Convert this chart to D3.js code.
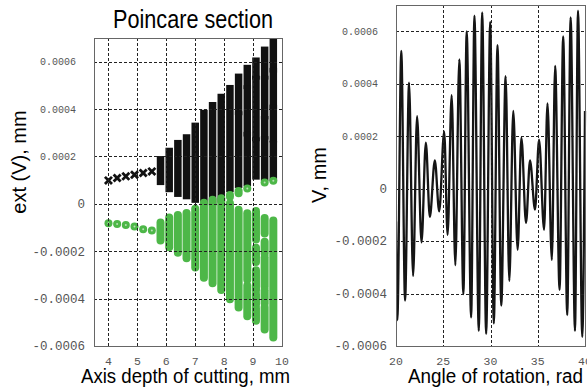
<!DOCTYPE html>
<html>
<head>
<meta charset="utf-8">
<script src="https://cdn.jsdelivr.net/npm/d3@7"></script>
<style>
  body { margin: 0; background: #fff; }
  svg { display: block; }
</style>
</head>
<body>
<svg id="chart" width="587" height="391"></svg>
<script>
// ---- data ----
// Poincare section: cutting depth (mm) and the ranges covered by the maxima / minima
const depths = [4.0, 4.3, 4.6, 4.9, 5.2, 5.5, 5.8, 6.1, 6.4, 6.7, 7.0, 7.3, 7.6, 7.9, 8.2, 8.5, 8.8, 9.1, 9.4, 9.7];

// each entry: list of [top, bottom] runs of black x-markers (maxima)
const maxRuns = [
  [[0.99e-4, 0.99e-4]],
  [[1.09e-4, 1.09e-4]],
  [[1.16e-4, 1.16e-4]],
  [[1.23e-4, 1.23e-4]],
  [[1.30e-4, 1.30e-4]],
  [[1.37e-4, 1.37e-4]],
  [[1.86e-4, 0.95e-4]],
  [[2.21e-4, 0.65e-4]],
  [[2.54e-4, 0.45e-4]],
  [[2.78e-4, 0.35e-4]],
  [[3.27e-4, 0.20e-4]],
  [[3.81e-4, 0.10e-4]],
  [[4.14e-4, 0.10e-4]],
  [[4.49e-4, 0.20e-4]],
  [[4.86e-4, 0.65e-4]],
  [[5.34e-4, 3.90e-4], [3.75e-4, 0.83e-4]],
  [[5.71e-4, 5.00e-4], [4.85e-4, 3.00e-4], [2.88e-4, 0.90e-4]],
  [[6.02e-4, 5.40e-4], [5.25e-4, 2.80e-4], [2.65e-4, 1.18e-4]],
  [[6.48e-4, 5.40e-4], [5.25e-4, 3.72e-4], [3.55e-4, 2.87e-4], [2.70e-4, 1.11e-4]],
  [[6.86e-4, 5.70e-4], [5.58e-4, 4.15e-4], [4.03e-4, 2.75e-4], [2.50e-4, 1.11e-4]]
];

// each entry: list of [top, bottom] runs of green circles (minima)
const minRuns = [
  [[-0.82e-4, -0.82e-4]],
  [[-0.85e-4, -0.85e-4]],
  [[-0.89e-4, -0.89e-4]],
  [[-0.96e-4, -0.96e-4]],
  [[-1.07e-4, -1.07e-4]],
  [[-1.13e-4, -1.13e-4]],
  [[-0.79e-4, -1.55e-4]],
  [[-0.58e-4, -1.83e-4]],
  [[-0.47e-4, -2.06e-4]],
  [[-0.39e-4, -2.30e-4]],
  [[-0.21e-4, -2.69e-4]],
  [[0.05e-4, -3.12e-4]],
  [[0.17e-4, -3.35e-4]],
  [[0.24e-4, -3.64e-4]],
  [[0.37e-4, 0.30e-4], [0.03e-4, -4.03e-4]],
  [[0.54e-4, 0.45e-4], [-0.25e-4, -4.37e-4]],
  [[0.65e-4, 0.65e-4], [-0.40e-4, -3.20e-4], [-3.45e-4, -4.74e-4]],
  [[-0.30e-4, -1.50e-4], [-1.85e-4, -2.45e-4], [-2.80e-4, -3.65e-4], [-3.80e-4, -4.25e-4], [-4.40e-4, -4.93e-4]],
  [[0.90e-4, 0.90e-4], [-0.60e-4, -1.25e-4], [-1.60e-4, -2.10e-4], [-2.25e-4, -3.50e-4], [-3.65e-4, -4.20e-4], [-4.35e-4, -5.30e-4]],
  [[0.97e-4, 0.97e-4], [-0.70e-4, -5.64e-4]]
];

// V(angle): successive extrema of the beating oscillation
const rotAngle = [20.0, 20.14, 20.56, 20.96, 21.38, 21.81, 22.23, 22.7, 23.16, 23.58, 24.11, 24.57, 25.1, 25.46,
  25.89, 26.28, 26.7, 27.13, 27.48, 27.95, 28.3, 28.76, 29.12, 29.54, 29.97, 30.35, 30.74, 31.14, 31.6, 31.99,
  32.41, 32.87, 33.27, 33.76, 34.18, 34.71, 35.14, 35.67, 36.03, 36.49, 36.84, 37.31, 37.69, 38.12, 38.48,
  38.94, 39.26, 39.71, 40.0];
const rotV = [-1.25e-4, -5.01e-4, 5.25e-4, -4.27e-4, 4.04e-4, -3.33e-4, 2.76e-4, -2.05e-4, 1.75e-4, -1.08e-4,
  1.08e-4, -0.87e-4, 2.17e-4, -1.76e-4, 3.56e-4, -2.92e-4, 4.93e-4, -4.02e-4, 5.99e-4, -4.91e-4, 6.59e-4,
  -5.42e-4, 6.72e-4, -5.54e-4, 6.36e-4, -5.14e-4, 5.47e-4, -4.46e-4, 4.29e-4, -3.52e-4, 2.96e-4, -2.33e-4,
  1.94e-4, -1.31e-4, 1.08e-4, -0.80e-4, 1.87e-4, -1.57e-4, 3.25e-4, -2.72e-4, 4.68e-4, -3.86e-4, 5.80e-4,
  -4.82e-4, 6.53e-4, -5.42e-4, 6.78e-4, -5.65e-4, 2.96e-4];

// ticks
const yTicks = [-0.0006, -0.0004, -0.0002, 0, 0.0002, 0.0004, 0.0006];
const xTicksLeft = [4, 5, 6, 7, 8, 9, 10];
const xTicksRight = [20, 25, 30, 35, 40];

// ---- layout ----
const svg = d3.select("#chart");
const leftBox = { x0: 94, x1: 282, y0: 38, y1: 346 };
const rightBox = { x0: 396, x1: 585, y0: 5, y1: 346 };
const green = "#4db748";
const mono = "'Liberation Mono', 'DejaVu Sans Mono', monospace";
const sans = "'Liberation Sans', Arial, sans-serif";

const xL = d3.scaleLinear().domain([3.5, 10]).range([leftBox.x0, leftBox.x1]);
const yL = d3.scaleLinear().domain([-0.0006, 0.0007]).range([leftBox.y1, leftBox.y0]);
const xR = d3.scaleLinear().domain([20, 40]).range([rightBox.x0, rightBox.x1]);
const yR = d3.scaleLinear().domain([-0.0006, 0.0007]).range([rightBox.y1, rightBox.y0]);

const fmt = v => v === 0 ? "0" : d3.format(".4f")(v).replace("\u2212", "-");

function drawGrid(box, x, y, xTicks) {
  const g = svg.append("g")
    .attr("stroke", "#222")
    .attr("stroke-width", 1)
    .attr("stroke-dasharray", "3,2");
  g.selectAll("line.v")
    .data(xTicks.filter(t => x(t) > box.x0 + 1 && x(t) < box.x1 - 1))
    .join("line")
    .attr("x1", d => Math.round(x(d)) + 0.5).attr("x2", d => Math.round(x(d)) + 0.5)
    .attr("y1", box.y0).attr("y2", box.y1);
  g.selectAll("line.h")
    .data(yTicks.filter(t => y(t) > box.y0 + 1 && y(t) < box.y1 - 1))
    .join("line")
    .attr("y1", d => Math.round(y(d)) + 0.5).attr("y2", d => Math.round(y(d)) + 0.5)
    .attr("x1", box.x0).attr("x2", box.x1);
}

function drawFrame(box, x, y, xTicks) {
  svg.append("rect")
    .attr("x", box.x0 + 0.5).attr("y", box.y0 + 0.5)
    .attr("width", box.x1 - box.x0).attr("height", box.y1 - box.y0)
    .attr("fill", "none").attr("stroke", "#666").attr("stroke-width", 1);

  // y tick labels (the positive ones are printed smaller in the source)
  svg.append("g").selectAll("text")
    .data(yTicks)
    .join("text")
    .attr("x", d => d > 0 ? box.x0 - 18 : box.x0 - 9)
    .attr("y", d => y(d))
    .attr("dy", "0.35em")
    .attr("text-anchor", "end")
    .attr("font-family", mono)
    .attr("font-size", d => d > 0 ? 10 : 12.5)
    .attr("fill", "#555")
    .text(fmt);

  svg.append("g").selectAll("text")
    .data(xTicks)
    .join("text")
    .attr("x", d => x(d))
    .attr("y", 365)
    .attr("text-anchor", "middle")
    .attr("font-family", mono)
    .attr("font-size", 11.5)
    .attr("fill", "#555")
    .text(d => d);
}

// ---- left: Poincare section ----
svg.append("clipPath").attr("id", "clipL")
  .append("rect").attr("x", leftBox.x0).attr("y", leftBox.y0)
  .attr("width", leftBox.x1 - leftBox.x0).attr("height", leftBox.y1 - leftBox.y0);

const dataL = svg.append("g").attr("clip-path", "url(#clipL)");

const maxFlat = depths.flatMap((d, i) => maxRuns[i].map(r => ({ d, top: r[0], bot: r[1] })));
const minFlat = depths.flatMap((d, i) => minRuns[i].map(r => ({ d, top: r[0], bot: r[1] })));

// black maxima
dataL.append("g")
  .selectAll("line")
  .data(maxFlat.filter(r => r.top !== r.bot))
  .join("line")
  .attr("x1", r => xL(r.d)).attr("x2", r => xL(r.d))
  .attr("y1", r => yL(r.top)).attr("y2", r => yL(r.bot))
  .attr("stroke", "#111").attr("stroke-width", 7.5).attr("stroke-linecap", "square");

dataL.append("g")
  .selectAll("path")
  .data(maxFlat.filter(r => r.top === r.bot))
  .join("path")
  .attr("transform", r => `translate(${xL(r.d)},${yL(r.top)})`)
  .attr("d", d3.symbol().type(d3.symbolX).size(34))
  .attr("stroke", "#111").attr("stroke-width", 2.8).attr("fill", "none");

// green minima
dataL.append("g")
  .selectAll("line")
  .data(minFlat.filter(r => r.top !== r.bot))
  .join("line")
  .attr("x1", r => xL(r.d)).attr("x2", r => xL(r.d))
  .attr("y1", r => yL(r.top)).attr("y2", r => yL(r.bot))
  .attr("stroke", green).attr("stroke-width", 8).attr("stroke-linecap", "round");

const singles = dataL.append("g")
  .selectAll("g")
  .data(minFlat.filter(r => r.top === r.bot))
  .join("g")
  .attr("transform", r => `translate(${xL(r.d)},${yL(r.top)})`);
singles.append("circle").attr("r", 4).attr("fill", green);
singles.append("circle").attr("r", 1).attr("fill", "#b9dfb4");

drawGrid(leftBox, xL, yL, xTicksLeft);
drawFrame(leftBox, xL, yL, xTicksLeft);

// ---- right: V over angle of rotation ----
svg.append("clipPath").attr("id", "clipR")
  .append("rect").attr("x", rightBox.x0).attr("y", rightBox.y0)
  .attr("width", rightBox.x1 - rightBox.x0 + 2).attr("height", rightBox.y1 - rightBox.y0);

const line = d3.line()
  .x(i => xR(rotAngle[i]))
  .y(i => yR(rotV[i]))
  .curve(d3.curveMonotoneX);

svg.append("path")
  .attr("clip-path", "url(#clipR)")
  .attr("d", line(d3.range(rotAngle.length)))
  .attr("fill", "none")
  .attr("stroke", "#151515")
  .attr("stroke-width", 2.3)
  .attr("stroke-linejoin", "round");

drawGrid(rightBox, xR, yR, xTicksRight);
drawFrame(rightBox, xR, yR, xTicksRight);

// ---- titles ----
svg.append("text")
  .attr("x", 113).attr("y", 28)
  .attr("font-family", sans).attr("font-size", 25)
  .attr("textLength", 160).attr("lengthAdjust", "spacingAndGlyphs")
  .text("Poincare section");

svg.append("text")
  .attr("x", 81).attr("y", 383)
  .attr("font-family", sans).attr("font-size", 20)
  .attr("textLength", 209).attr("lengthAdjust", "spacingAndGlyphs")
  .text("Axis depth of cutting, mm");

svg.append("text")
  .attr("x", 408).attr("y", 383)
  .attr("font-family", sans).attr("font-size", 20)
  .attr("textLength", 175).attr("lengthAdjust", "spacingAndGlyphs")
  .text("Angle of rotation, rad");

svg.append("text")
  .attr("transform", "translate(26,162) rotate(-90)")
  .attr("text-anchor", "middle")
  .attr("font-family", sans).attr("font-size", 20)
  .text("ext (V), mm");

svg.append("text")
  .attr("transform", "translate(326,175) rotate(-90)")
  .attr("text-anchor", "middle")
  .attr("font-family", sans).attr("font-size", 20)
  .text("V, mm");
</script>
</body>
</html>
